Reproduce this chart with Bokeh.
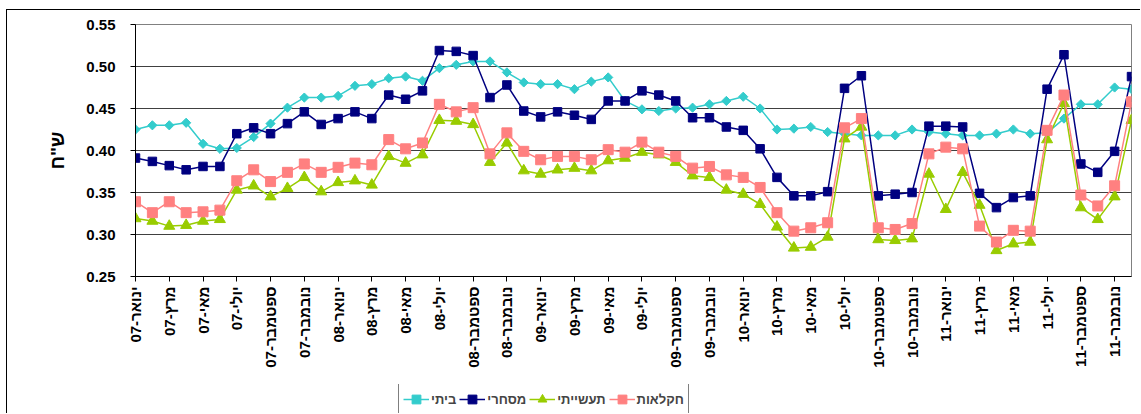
import numpy as np
from bokeh.plotting import figure
from bokeh.layouts import column
from bokeh.models import (Legend, LegendItem, FixedTicker, Range1d,
                          NumeralTickFormatter, ColumnDataSource)
from bokeh.embed import file_html
from bokeh.resources import INLINE

months = ["ינואר", "פברואר", "מרץ", "אפריל", "מאי", "יוני",
          "יולי", "אוגוסט", "ספטמבר", "אוקטובר", "נובמבר", "דצמבר"]
years = ["07", "08", "09", "10", "11"]
categories = [f"{m}-{y}" for y in years for m in months]

series_names = ["ביתי", "מסחרי", "תעשייתי", "חקלאות"]

household = [0.425, 0.430, 0.430, 0.433, 0.408, 0.402, 0.403, 0.416, 0.432, 0.451, 0.463, 0.463,
             0.465, 0.477, 0.479, 0.486, 0.488, 0.483, 0.498, 0.502, 0.506, 0.506, 0.493, 0.481,
             0.479, 0.479, 0.473, 0.482, 0.487, 0.459, 0.449, 0.447, 0.450, 0.451, 0.455, 0.459,
             0.464, 0.450, 0.425, 0.426, 0.428, 0.422, 0.420, 0.418, 0.418, 0.418, 0.425, 0.422,
             0.420, 0.418, 0.418, 0.420, 0.425, 0.420, 0.421, 0.438, 0.455, 0.455, 0.475, 0.473]

commercial = [0.391, 0.387, 0.382, 0.377, 0.381, 0.381, 0.420, 0.427, 0.420, 0.432, 0.446, 0.431,
              0.438, 0.446, 0.438, 0.466, 0.461, 0.471, 0.519, 0.518, 0.513, 0.463, 0.478, 0.447,
              0.440, 0.446, 0.442, 0.437, 0.459, 0.459, 0.471, 0.466, 0.459, 0.439, 0.439, 0.428,
              0.424, 0.402, 0.368, 0.346, 0.346, 0.351, 0.474, 0.489, 0.346, 0.348, 0.350, 0.429,
              0.429, 0.428, 0.349, 0.332, 0.344, 0.346, 0.473, 0.514, 0.384, 0.374, 0.399, 0.488]

industrial = [0.319, 0.316, 0.310, 0.311, 0.316, 0.318, 0.353, 0.358, 0.345, 0.355, 0.368, 0.351,
              0.362, 0.364, 0.359, 0.393, 0.385, 0.395, 0.436, 0.435, 0.431, 0.386, 0.409, 0.376,
              0.372, 0.377, 0.379, 0.376, 0.388, 0.391, 0.398, 0.395, 0.386, 0.370, 0.368, 0.353,
              0.348, 0.336, 0.309, 0.284, 0.285, 0.297, 0.414, 0.428, 0.294, 0.293, 0.295, 0.372,
              0.330, 0.374, 0.335, 0.281, 0.289, 0.291, 0.413, 0.456, 0.332, 0.318, 0.345, 0.436]

agriculture = [0.339, 0.326, 0.339, 0.326, 0.327, 0.329, 0.364, 0.377, 0.363, 0.374, 0.384, 0.374,
               0.380, 0.385, 0.383, 0.413, 0.402, 0.409, 0.455, 0.446, 0.451, 0.396, 0.421, 0.399,
               0.389, 0.393, 0.393, 0.389, 0.401, 0.398, 0.410, 0.398, 0.393, 0.379, 0.381, 0.371,
               0.368, 0.356, 0.326, 0.304, 0.308, 0.314, 0.427, 0.438, 0.308, 0.306, 0.313, 0.396,
               0.404, 0.402, 0.310, 0.291, 0.305, 0.304, 0.424, 0.466, 0.347, 0.334, 0.358, 0.458]

y_ticks = [0.25, 0.30, 0.35, 0.40, 0.45, 0.50, 0.55]
y_label = 'ש"ח'

FONT = "Liberation Sans, Arial, DejaVu Sans, sans-serif"
W = 1133

x = list(range(len(categories)))
src = ColumnDataSource(dict(x=x, household=household, commercial=commercial,
                            industrial=industrial, agriculture=agriculture))

p = figure(width=W, height=374, output_backend="svg", toolbar_location=None,
           x_range=Range1d(0, len(categories) - 1), y_range=Range1d(0.25, 0.55),
           min_border_left=128, min_border_right=9, min_border_top=14,
           min_border_bottom=108, background_fill_color="white",
           border_fill_color="white")
p.outline_line_color = "#808080"
p.outline_line_width = 1

# legend strip below the chart (its series are drawn out of its visible range)
lg = figure(width=W, height=29, output_backend="svg", toolbar_location=None,
            x_range=Range1d(0, 1), y_range=Range1d(10, 11),
            min_border_left=0, min_border_right=0, min_border_top=0,
            min_border_bottom=0, background_fill_color="white",
            border_fill_color="white")
lg.axis.visible = False
lg.grid.visible = False
lg.outline_line_color = None

styles = [
    ("household", "#33CCCC", "square", 6.5, np.pi / 4),
    ("commercial", "#000080", "square", 8.5, 0),
    ("industrial", "#99CC00", "triangle", 11, 0),
    ("agriculture", "#FF8080", "square", 10, 0),
]
items = []
for (col, color, marker, size, ang), name in zip(styles, series_names):
    p.line("x", col, source=src, line_color=color, line_width=1.5)
    p.scatter("x", col, source=src, marker=marker, size=size, angle=ang,
              fill_color=color, line_color=color)
    lr = lg.line("x", col, source=src, line_color=color, line_width=1.5)
    sr = lg.scatter("x", col, source=src, marker=marker, size=size, angle=ang,
                    fill_color=color, line_color=color)
    items.append(LegendItem(label=name, renderers=[lr, sr]))

legend = Legend(items=items, orientation="horizontal", location=(263, -2),
                border_line_color="black", border_line_width=1, padding=4,
                spacing=3, label_standoff=2, glyph_width=26, glyph_height=22,
                label_width=10,
                label_text_font=FONT, label_text_font_size="13px",
                label_text_font_style="bold", margin=0,
                background_fill_color="white", background_fill_alpha=1)
lg.add_layout(legend, "center")

# x axis
p.xaxis.ticker = FixedTicker(ticks=list(range(0, len(categories), 2)))
p.xaxis.major_label_overrides = {i: categories[i] for i in range(0, len(categories), 2)}
p.xaxis.major_label_orientation = np.pi / 2
p.xaxis.major_label_text_font = FONT
p.xaxis.major_label_text_font_size = "15px"
p.xaxis.major_label_text_font_style = "bold"
p.xaxis.major_label_text_color = "black"
p.xaxis.major_tick_in = 0
p.xaxis.major_tick_out = 5
p.xaxis.minor_tick_line_color = None
p.xaxis.axis_line_color = "black"
p.xaxis.major_tick_line_color = "black"
p.xaxis.major_label_standoff = 5
p.xgrid.visible = False

# y axis
p.yaxis.ticker = FixedTicker(ticks=y_ticks)
p.yaxis.formatter = NumeralTickFormatter(format="0.00")
p.yaxis.major_label_text_font = FONT
p.yaxis.major_label_text_font_size = "15px"
p.yaxis.major_label_text_font_style = "bold"
p.yaxis.major_label_text_color = "black"
p.yaxis.major_tick_in = 0
p.yaxis.major_tick_out = 5
p.yaxis.minor_tick_line_color = None
p.yaxis.axis_line_color = "black"
p.yaxis.major_tick_line_color = "black"
p.yaxis.major_label_standoff = 15
p.yaxis.axis_label = y_label
p.yaxis.axis_label_text_font = FONT
p.yaxis.axis_label_text_font_size = "19px"
p.yaxis.axis_label_text_font_style = "bold"
p.yaxis.axis_label_text_color = "black"
p.yaxis.axis_label_standoff = 15
p.ygrid.ticker = FixedTicker(ticks=y_ticks)
p.ygrid.grid_line_color = "#404040"
p.ygrid.grid_line_width = 1

layout = column(p, lg, spacing=0, margin=(9, 0, 0, 6),
                styles={"border-top": "1px solid black",
                        "border-left": "1px solid black"})
open("out.html", "w").write(file_html(layout, INLINE))
